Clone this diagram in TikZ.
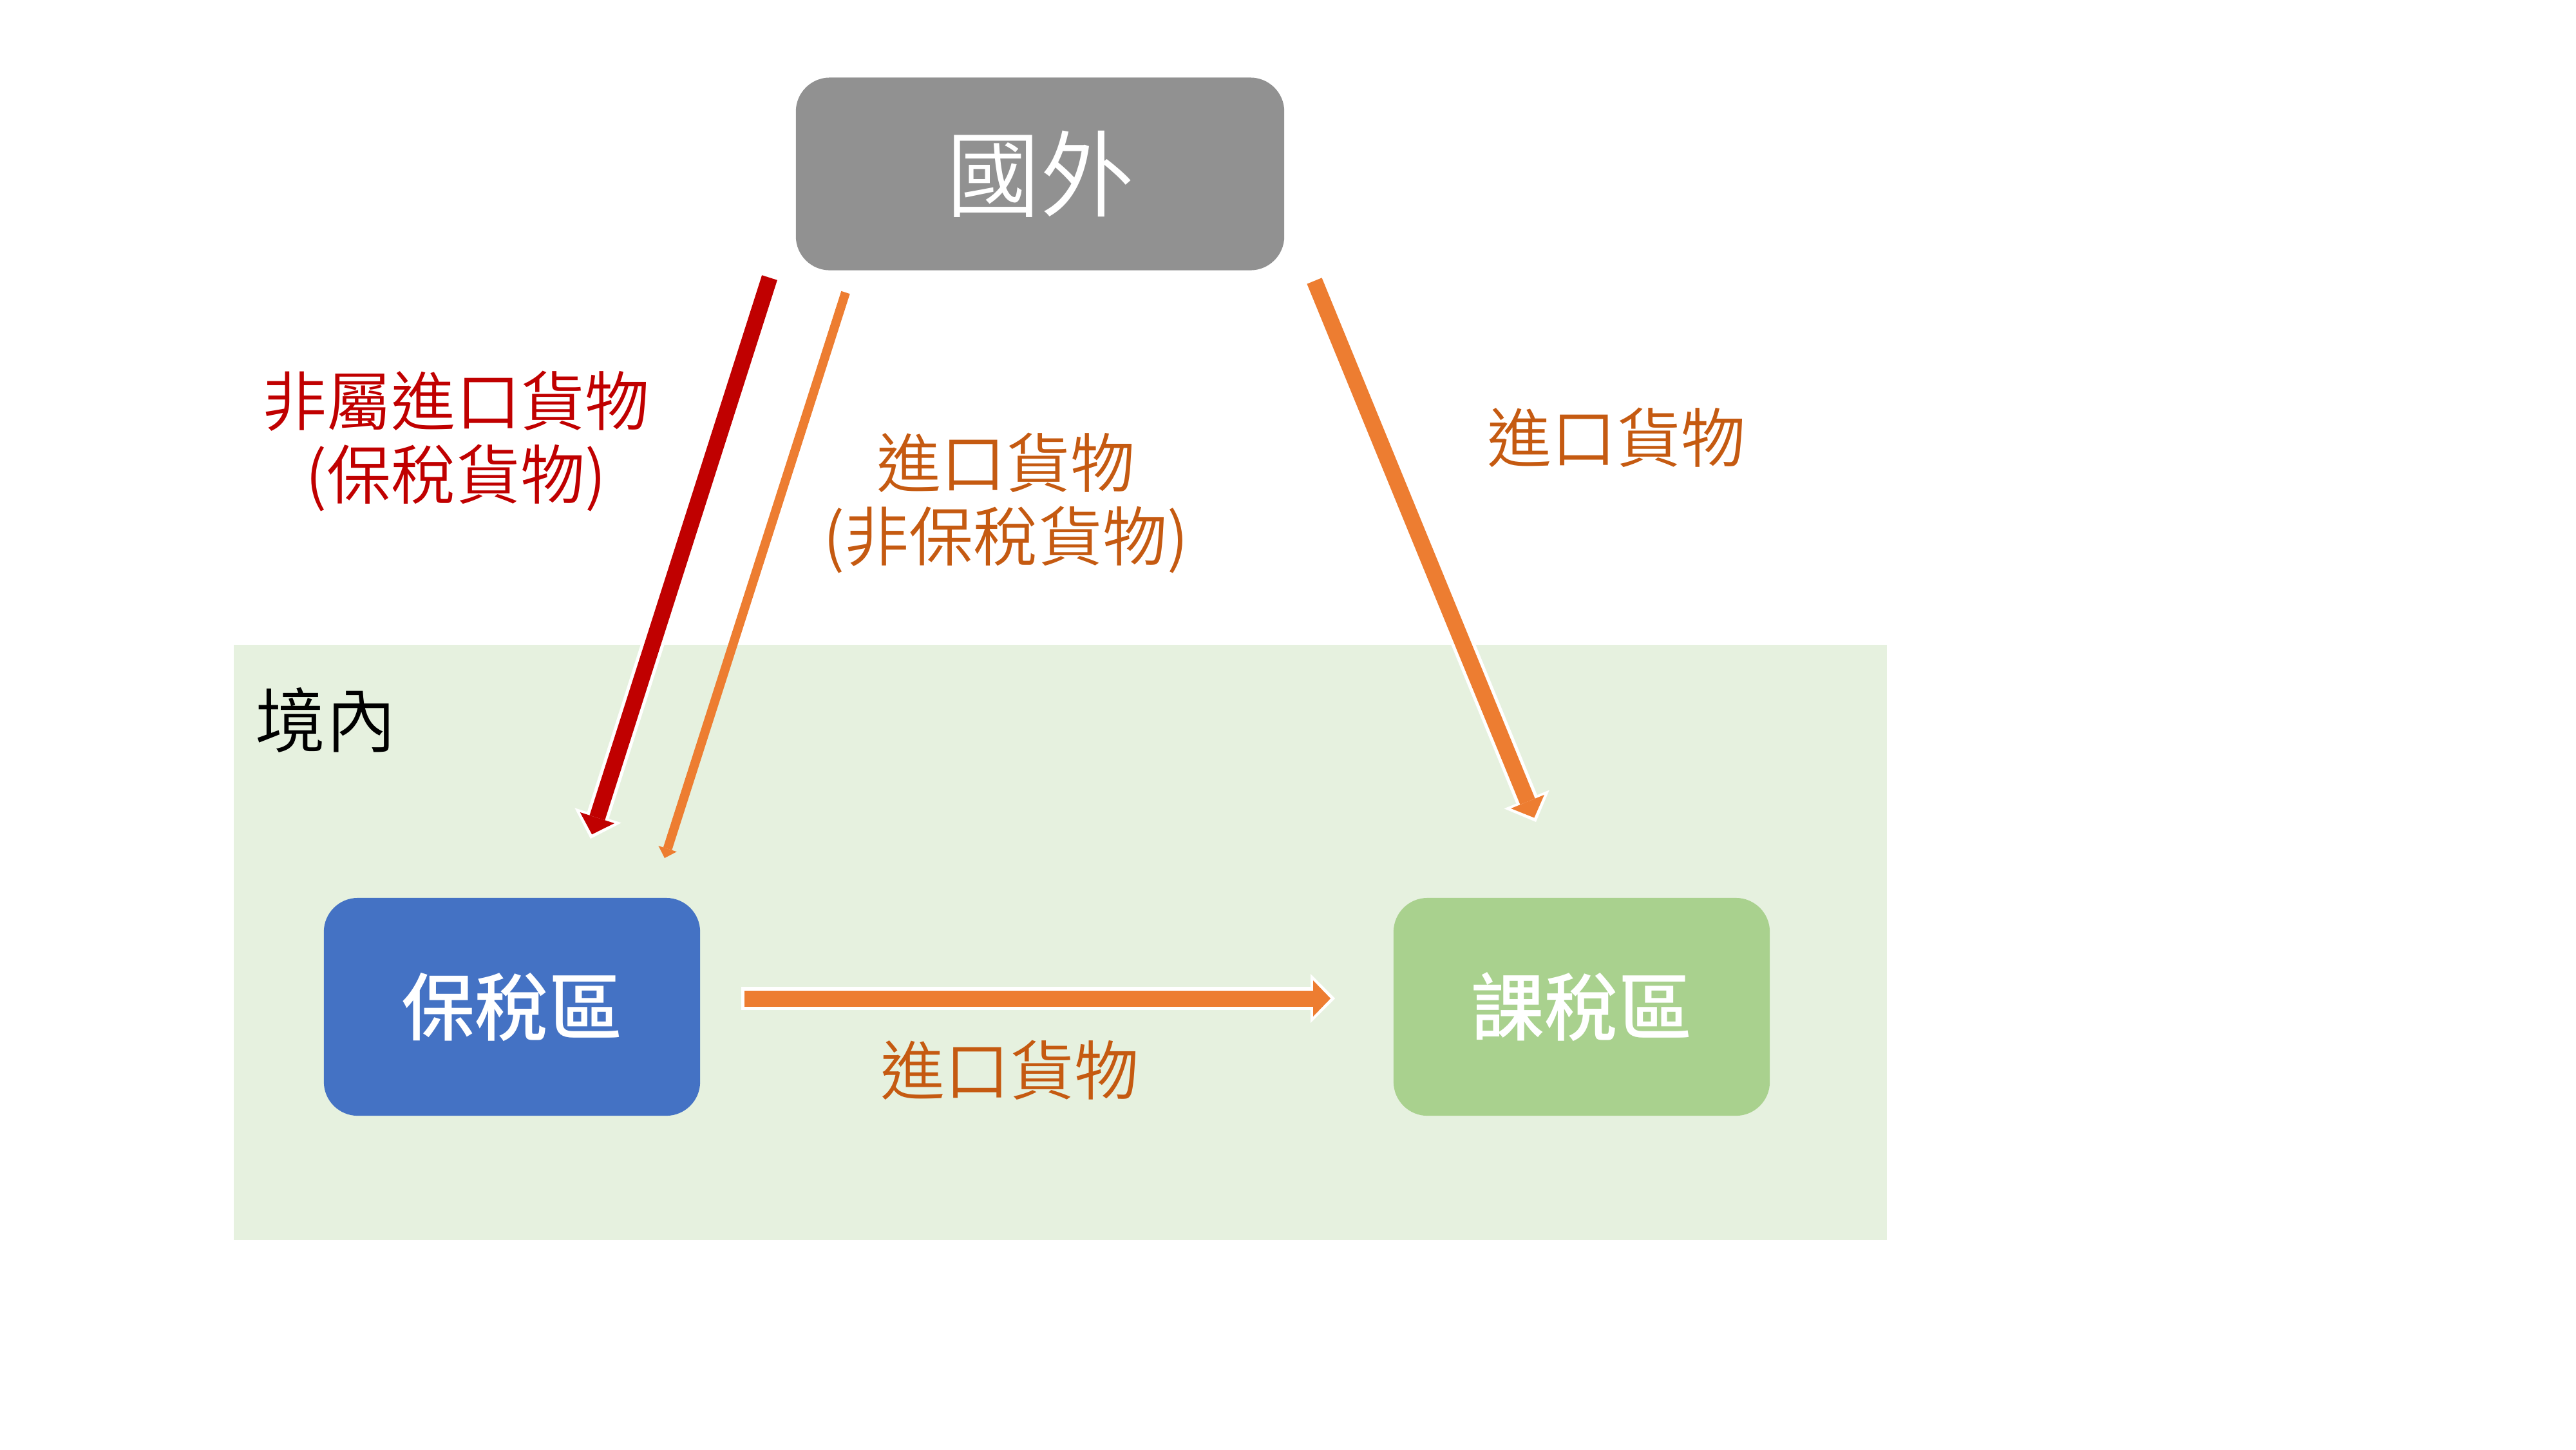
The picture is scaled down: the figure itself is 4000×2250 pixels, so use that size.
\documentclass[tikz,border=0pt]{standalone}
\usepackage{fontspec}
\IfFontExistsTF{Noto Sans CJK TC DemiLight}
  {\setmainfont{Noto Sans CJK TC DemiLight}}
  {\setmainfont{Noto Sans CJK TC}}
\IfFontExistsTF{Noto Sans CJK TC Medium}
  {\newfontfamily\boxfont{Noto Sans CJK TC Medium}}
  {\newfontfamily\boxfont{Noto Sans CJK TC}[FakeBold=1.5]}
\usetikzlibrary{arrows.meta,calc}

\definecolor{boxgray}{RGB}{145,145,145}
\definecolor{bondblue}{RGB}{68,114,196}
\definecolor{taxgreen}{RGB}{169,209,142}
\definecolor{zonegreen}{RGB}{230,241,223}
\definecolor{arrowred}{RGB}{192,0,0}
\definecolor{arroworange}{RGB}{237,125,49}
\definecolor{textorange}{RGB}{197,90,17}

\tikzset{
  zonebox/.style={rounded corners=15pt, inner sep=0pt, text=white, minimum width=5.84cm, minimum height=3.38cm, font=\boxfont\fontsize{32.5}{36}\selectfont},
  halo/.style={draw=white, line width=10pt, shorten <=-1.4pt, -{Triangle[length=10.8pt,width=21.6pt,line width=0pt]}},
  fatred/.style={draw=arrowred, line width=7.1pt, shorten >=2pt, -{Triangle[length=7.7pt,width=15.9pt,line width=0pt]}},
  fatorange/.style={fatred, draw=arroworange},
  thinorange/.style={draw=arroworange, line width=4pt, -{Triangle[length=4.3pt,width=8.5pt,line width=0pt]}},
  goods/.style={inner sep=0pt, align=center, font=\fontsize{28.5}{32.4}\selectfont}
}

\begin{document}
\begin{tikzpicture}[x=0.01cm,y=-0.01cm]
\useasboundingbox (0,0) rectangle (4000,2250);

%Shape: Rectangle (domestic zone)
\fill[zonegreen] (363,1001) rectangle (2930,1925);
% Text Node
\node[inner sep=0pt, font=\fontsize{31}{34}\selectfont] (domestic) at (506,1118) {境內};

%Shape: Rounded boxes
\node[zonebox, fill=boxgray, minimum width=7.58cm, minimum height=2.99cm, font=\fontsize{41.5}{46}\selectfont] (abroad) at (1615,270) {國外};
\node[zonebox, fill=bondblue] (bonded) at (795,1563) {保稅區};
\node[zonebox, fill=taxgreen] (taxed) at (2456,1563) {課稅區};

%Arrow ends
\coordinate (redfrom) at (1195,431);
\coordinate (redto) at (917,1302);
\coordinate (thinfrom) at (1313,454);
\coordinate (thinto) at (1032,1332);
\coordinate (rightfrom) at (2041,436);
\coordinate (rightto) at (2385,1276);
\coordinate (plainfrom) at ($(bonded.east)+(68,-13)$);
\coordinate (plainto) at ($(taxed.west)+(-90,-13)$);

%Straight Lines
\draw[halo] (redfrom) -- (redto);
\draw[fatred] (redfrom) -- (redto);
\draw[thinorange] (thinfrom) -- (thinto);
\draw[halo] (rightfrom) -- (rightto);
\draw[fatorange] (rightfrom) -- (rightto);
\draw[halo] (plainfrom) -- (plainto);
\draw[fatorange] (plainfrom) -- (plainto);

% Text Node
\node[goods, text=arrowred] (redlabel) at (708,685) {非屬進口貨物\\(保稅貨物)};
% Text Node
\node[goods, text=textorange] (thinlabel) at (1562,781) {進口貨物\\(非保稅貨物)};
% Text Node
\node[goods, text=textorange] (rightlabel) at (2510,679) {進口貨物};
% Text Node
\node[goods, text=textorange] (bottomlabel) at (1568,1661) {進口貨物};

\end{tikzpicture}
\end{document}
